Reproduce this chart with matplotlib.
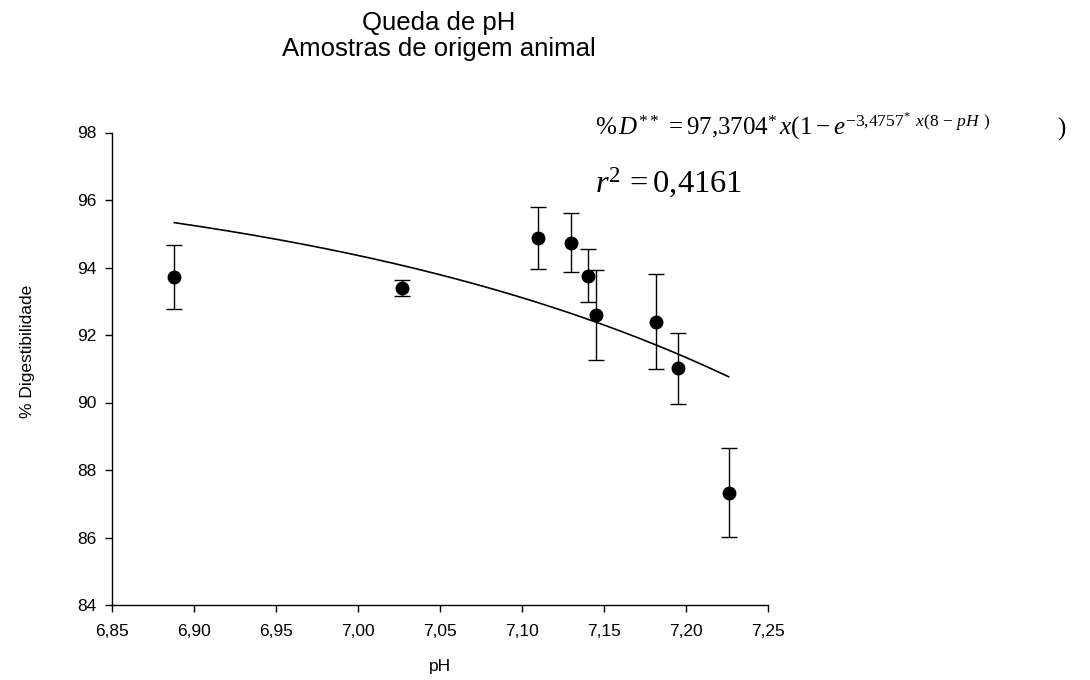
import numpy as np
import matplotlib
matplotlib.use("Agg")
import matplotlib.pyplot as plt

plt.rcParams['font.family'] = ['Liberation Sans', 'DejaVu Sans']
plt.rcParams['mathtext.fontset'] = 'custom'
plt.rcParams['mathtext.rm'] = 'Liberation Serif'
plt.rcParams['mathtext.it'] = 'Liberation Serif:italic'
plt.rcParams['mathtext.bf'] = 'Liberation Serif:bold'

# Data
ph = [6.888, 7.027, 7.110, 7.130, 7.140, 7.145, 7.182, 7.195, 7.226]
digest = [93.71, 93.39, 94.88, 94.74, 93.76, 92.59, 92.40, 91.02, 87.33]
err = [0.95, 0.24, 0.91, 0.88, 0.79, 1.33, 1.41, 1.05, 1.32]

# Fitted model parameters (from the equation shown)
fit_a = 97.3704
fit_b = 3.4757

xticks = [6.85, 6.90, 6.95, 7.00, 7.05, 7.10, 7.15, 7.20, 7.25]
xticklabels = ["6,85", "6,90", "6,95", "7,00", "7,05", "7,10", "7,15", "7,20", "7,25"]
yticks = [84, 86, 88, 90, 92, 94, 96, 98]

W, H = 1090, 680
fig = plt.figure(figsize=(W / 100, H / 100), dpi=100)
ax = fig.add_axes([112 / W, 1 - 605 / H, 656 / W, (605 - 132.5) / H])

xf = np.linspace(min(ph), max(ph), 200)
yf = fit_a * (1 - np.exp(-fit_b * (8 - xf)))
ax.plot(xf, yf, color='black', lw=1.2, zorder=2)

ax.errorbar(ph, digest, yerr=err, fmt='o', color='black', ms=9,
            ecolor='black', elinewidth=1.0, capsize=5.5, capthick=1.0, zorder=3)

ax.set_xlim(6.85, 7.25)
ax.set_ylim(84, 98)
ax.set_xticks(xticks)
ax.set_xticklabels(xticklabels)
ax.set_yticks(yticks)

for s in ['top', 'right']:
    ax.spines[s].set_visible(False)
for s in ['left', 'bottom']:
    ax.spines[s].set_linewidth(1.0)
    ax.spines[s].set_color('black')

ax.tick_params(axis='both', direction='out', length=5, width=1.0, labelsize=12.5, colors='black')
ax.tick_params(axis='x', pad=9)
ax.tick_params(axis='y', pad=6)

ax.set_xlabel('pH', fontsize=12.5)
ax.xaxis.set_label_coords(0.5, -0.115)
ax.set_ylabel('% Digestibilidade', fontsize=12.5)
ax.yaxis.set_label_coords(-0.118, 0.5376)

fig.text(439 / W, 1 - 23 / H, 'Queda de pH', ha='center', va='center', fontsize=18.5)
fig.text(439 / W, 1 - 49 / H, 'Amostras de origem animal', ha='center', va='center', fontsize=18.5)

eq1 = fig.text(595 / W, 1 - 135 / H,
               r'$\%\,D^{**}\,=97{,}3704^{*}\,x(1-e^{-3{,}4757^{*}\;\,x(8\,-\,pH\;\,)}$',
               ha='left', va='baseline', fontsize=18)
fig.text(1057 / W, 1 - 135 / H, r'$)$', ha='left', va='baseline', fontsize=18)
eq2 = fig.text(595 / W, 1 - 193 / H, r'$r^{2}\,=0{,}4161$',
               ha='left', va='baseline', fontsize=18)

# scale the r^2 line so that its width matches the reference (595 -> 747 px)
fig.canvas.draw()
rend = fig.canvas.get_renderer()
w2 = eq2.get_window_extent(rend).width
eq2.set_fontsize(18 * 152.0 / w2 * 0.97)

fig.savefig('out.png', dpi=100)
